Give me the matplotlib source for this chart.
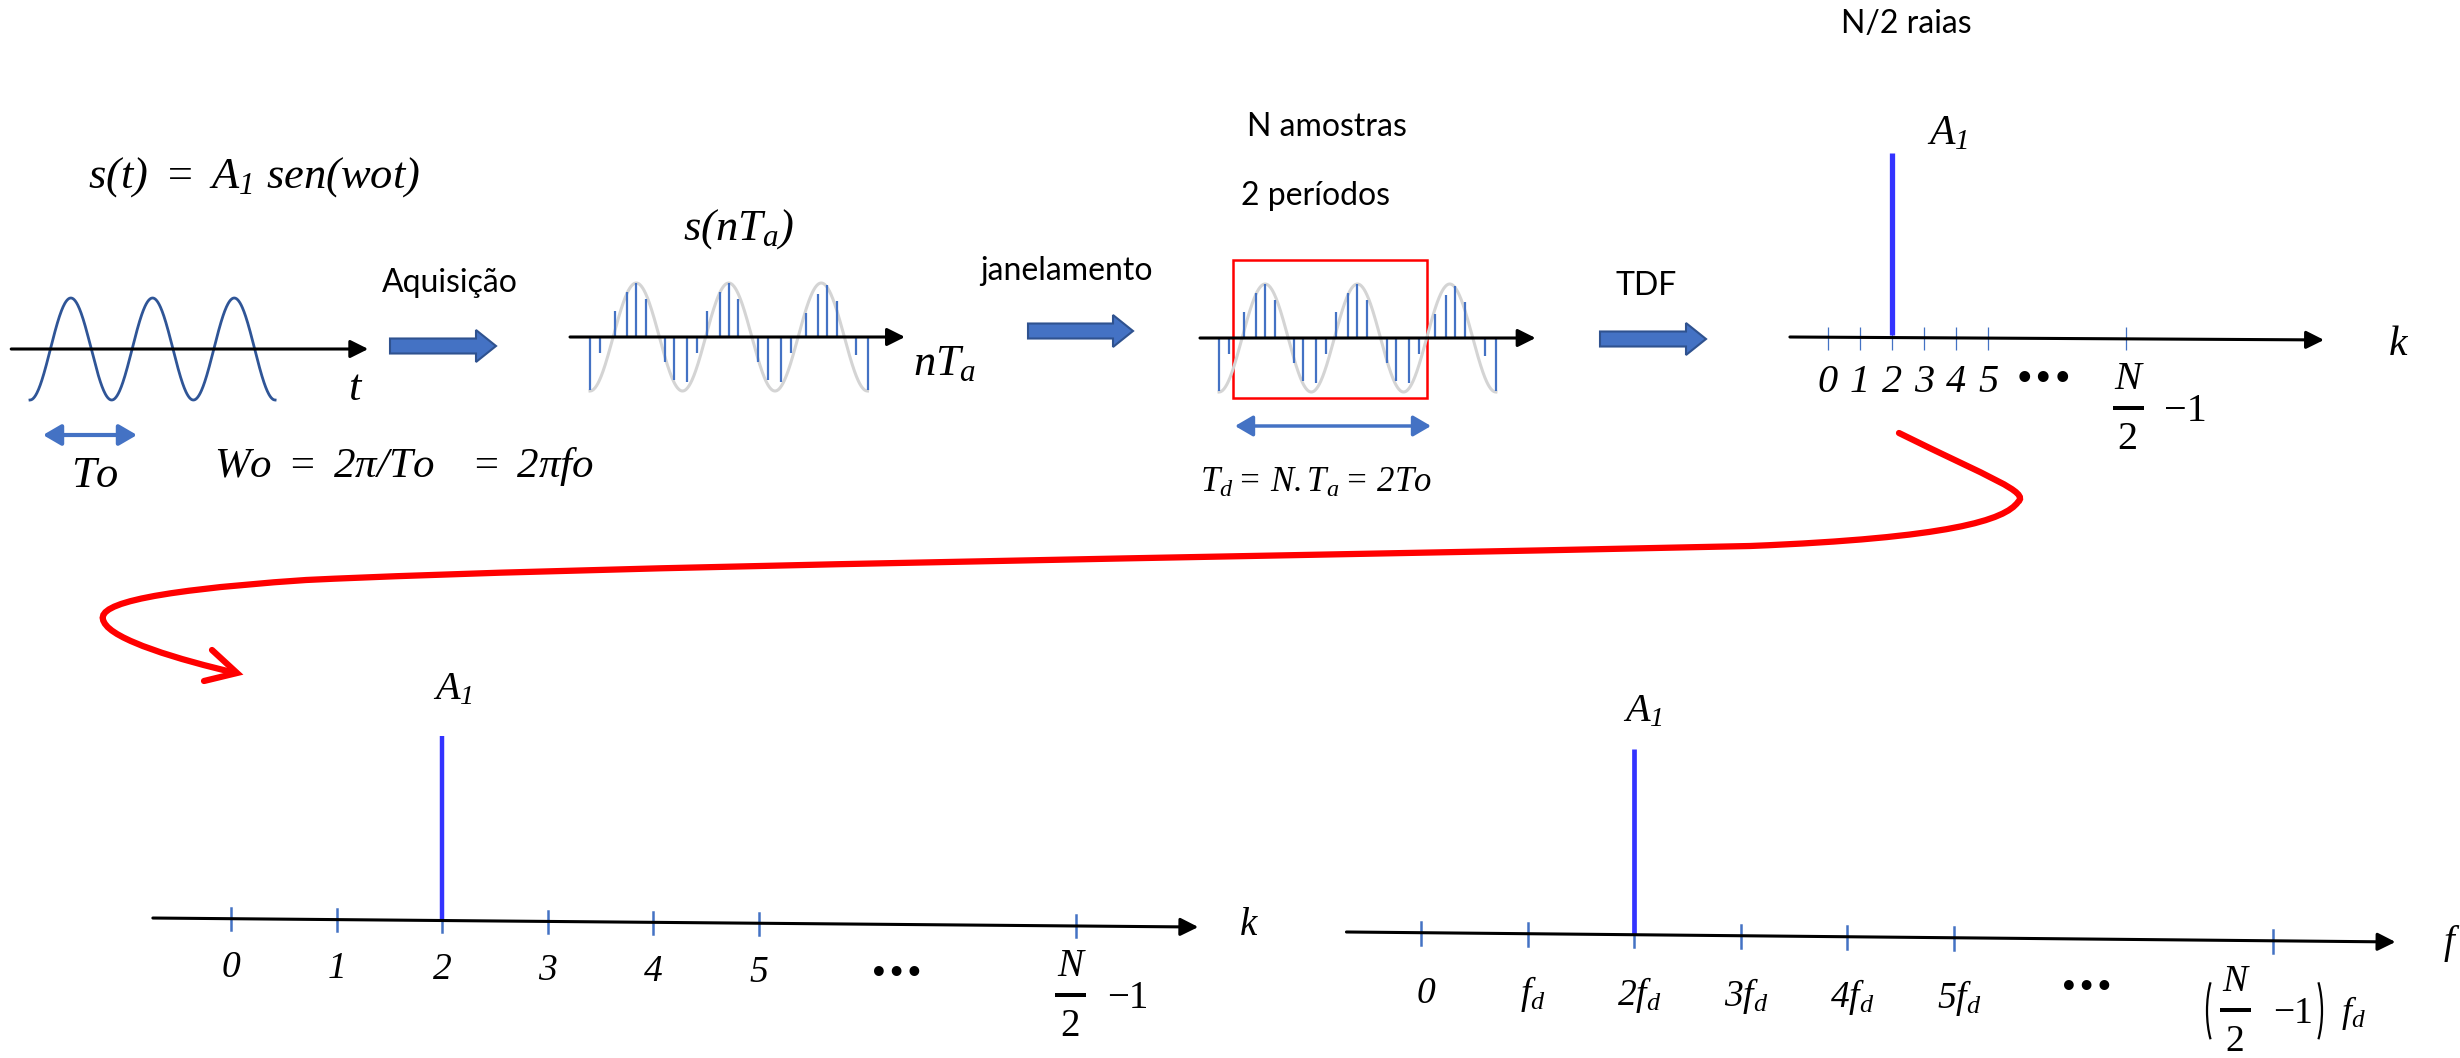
import numpy as np
import matplotlib
matplotlib.use('Agg')
import matplotlib.pyplot as plt
from matplotlib.patches import FancyArrow, Rectangle, PathPatch, Arc
from matplotlib.path import Path

# formulas in Times italic (as in the slide)
plt.rcParams['mathtext.fontset'] = 'custom'
plt.rcParams['mathtext.rm'] = 'Liberation Serif:italic'
plt.rcParams['mathtext.it'] = 'Liberation Serif:italic'
plt.rcParams['mathtext.bf'] = 'Liberation Serif:bold'
plt.rcParams['mathtext.sf'] = 'Liberation Serif'

# amostras de s(nTa): tempo em periodos To, amplitude em unidades de A1
sample_t = [0.0, 0.11, 0.27, 0.40, 0.50, 0.61, 0.81, 0.91, 1.05, 1.16, 1.27, 1.40,
            1.50, 1.60, 1.82, 1.92, 2.06, 2.17, 2.34, 2.46, 2.56, 2.67, 2.88, 3.0]
sample_a = [-0.99, -0.30, 0.48, 0.83, 1.0, 0.70, -0.47, -0.80, -0.84, -0.30, 0.48, 0.83,
            1.0, 0.70, -0.47, -0.80, -0.84, -0.30, 0.45, 0.80, 0.97, 0.67, -0.33, -0.99]
n_periods = 3
window = (0.15, 2.25)  # janela de 2 periodos

# espectro: posicao das raias no eixo k
k_top = [0, 1, 2, 3, 4, 5, 9.3]
k_bottom = [0, 1, 2, 3, 4, 5, 8]
k_labels = ['0', '1', '2', '3', '4', '5']
f_labels = [r'$0$', r'$f_d$', r'$2f_d$', r'$3f_d$', r'$4f_d$', r'$5f_d$']
line_k = 2
line_amp = 1.0

BLUE = '#4472C4'
DARK = '#2F5597'
LINE = '#3333FF'
GREY = '#D4D4D4'

W, H = 2460, 1058
fig = plt.figure(figsize=(W / 100, H / 100), dpi=100)
fig.patch.set_facecolor('white')
over = fig.add_axes([0, 0, 1, 1])
over.set_xlim(0, W)
over.set_ylim(H, 0)
over.axis('off')


def panel(x0, y0, sx, sy, box):
    # x0,y0 = pixel da origem dos dados, sx,sy = pixels por unidade
    l, t, r, b = box
    ax = fig.add_axes([l / W, 1 - b / H, (r - l) / W, (b - t) / H])
    ax.set_xlim((l - x0) / sx, (r - x0) / sx)
    ax.set_ylim((y0 - b) / sy, (y0 - t) / sy)
    ax.axis('off')
    ax.patch.set_alpha(0)
    return ax


def to_px(ax, x, y):
    dx, dy = ax.transData.transform((x, y))
    return float(dx), float(H - dy)


def axis_arrow(ax, xa, xb, ya=0, yb=0, lw=2.2):
    ax.annotate('', xy=(xb, yb), xytext=(xa, ya), annotation_clip=False,
                arrowprops=dict(arrowstyle='-|>,head_length=0.6,head_width=0.3',
                                mutation_scale=18, lw=lw, color='k',
                                shrinkA=0, shrinkB=0))


def dbl_arrow(xa, xb, y, lw=3):
    over.annotate('', xy=(xb, y), xytext=(xa, y),
                  arrowprops=dict(arrowstyle='<|-|>,head_length=0.6,head_width=0.35',
                                  mutation_scale=18, lw=lw, color=BLUE,
                                  shrinkA=0, shrinkB=0))


def block_arrow(xa, xb, y):
    over.add_patch(FancyArrow(xa, y, xb - xa, 0, width=15, head_width=32, head_length=20,
                              length_includes_head=True, fc=BLUE, ec='#2F528F', lw=1.5))


def frac_label(ax, k, y, dx, dy, fs=29, parens=False):
    # N/2 - 1 escrito como fracao, ancorado no ultimo tick
    x0, y0 = to_px(ax, k, y)
    xc, yb = x0 + dx, y0 + dy
    ser = dict(family='Liberation Serif', fontsize=fs, ha='center', va='baseline')
    over.text(xc, yb - 19, 'N', style='italic', **ser)
    over.text(xc, yb + 41, '2', **ser)
    over.add_patch(Rectangle((xc - 15, yb - 2), 31, 4, facecolor='k', edgecolor='none',
                             zorder=6))
    over.text(xc + 58, yb + 13, '\u22121', **ser)
    if parens:
        over.add_patch(Arc((xc - 8, yb + 1), 40, 100, theta1=120, theta2=240,
                           color='k', lw=1.6))
        over.add_patch(Arc((xc + 67, yb + 1), 40, 100, theta1=-60, theta2=60,
                           color='k', lw=1.6))
        over.text(xc + 106, yb + 3, r'$f_d$', ha='left', va='center', fontsize=fs - 1)


serif = dict(fontsize=32, color='k')
sans = dict(family='Lato', fontsize=23, color='k')

# ---- sinal continuo
axA = panel(30, 349, 81.7, 51, (0, 270, 420, 420))
tt = np.linspace(0, n_periods, 600)
axA.plot(tt, -np.cos(2 * np.pi * tt), color=DARK, lw=2, clip_on=False)
axis_arrow(axA, -0.23, 4.14)
dbl_arrow(43, 137, 435)
over.text(88, 188, r'$s(t)\ =\ A_1\ sen(wot)$', va='baseline', **serif)
over.text(348, 400, r'$t$', va='baseline', **serif)
over.text(71, 487, r'$To$', va='baseline', **serif)
over.text(214, 477, r'$Wo\ =\ 2\pi/To\ \ \ =\ 2\pi fo$', va='baseline', fontsize=31)
over.text(382, 292, 'Aquisição', va='baseline', **sans)
block_arrow(390, 496, 346)

# ---- sinal amostrado
axB = panel(590, 337, 92.5, 54, (550, 250, 930, 420))
axB.plot(tt, -np.cos(2 * np.pi * tt), color=GREY, lw=2.2, clip_on=False)
axB.vlines(sample_t, 0, sample_a, color=BLUE, lw=1.6)
axis_arrow(axB, -0.216, 3.405)
over.text(683, 240, r'$s(nT_a)$', va='baseline', **serif)
over.text(913, 375, r'$nT_a$', va='baseline', **serif)
over.text(980, 280, 'janelamento', va='baseline', **sans)
block_arrow(1028, 1133, 331)

# ---- janelamento
axC = panel(1219, 338, 92.3, 54, (1180, 240, 1560, 420))
axC.plot(tt, -np.cos(2 * np.pi * tt), color=GREY, lw=2.2, clip_on=False)
axC.vlines(sample_t, 0, sample_a, color=BLUE, lw=1.6)
axis_arrow(axC, -0.206, 3.43)
axC.add_patch(Rectangle((window[0], -1.11), window[1] - window[0], 2.55,
                        fill=False, ec='#FF0000', lw=1.8, clip_on=False))
dbl_arrow(1235, 1431, 426, lw=2.5)
over.text(1247, 136, 'N amostras', va='baseline', **sans)
over.text(1241, 205, '2 períodos', va='baseline', **sans)
over.text(1200, 492, r'$T_d{=}\,N{.}T_a{=}\,2To$', va='baseline', fontsize=25)
over.text(1616, 295, 'TDF', va='baseline', **sans)
block_arrow(1600, 1706, 339)

# ---- espectro (k)
axD = panel(1828, 337, 32, 184, (1760, 120, 2440, 460))
axis_arrow(axD, -1.19, 15.5, 0, -0.016)
axD.vlines(k_top, -0.07, 0.054, color=BLUE, lw=0.9)
axD.vlines([line_k], 0.01, line_amp, color=LINE, lw=3.8)
for k, lab in zip(k_top, k_labels):
    axD.text(k, -0.30, lab, ha='center', va='baseline', family='Liberation Serif',
             style='italic', fontsize=29)
axD.text(6.75, -0.23, '•••', ha='center', va='center', family='DejaVu Sans',
         fontsize=22, fontweight='bold')
frac_label(axD, k_top[-1], -0.016, 2, 68)
axD.text(line_k + 1.1, 1.05, r'$A_1$', ha='left', va='baseline', fontsize=30)
axD.text(17.5, -0.1, r'$k$', ha='left', va='baseline', fontsize=30)
over.text(1841, 33, 'N/2 raias', va='baseline', **sans)

# ---- seta vermelha
verts = [(1899, 433), (1990, 478), (2030, 492), (2018, 502),
         (2005, 520), (1950, 538), (1750, 546),
         (1200, 558), (600, 566), (306, 580),
         (130, 592), (95, 607), (104, 622),
         (112, 640), (180, 660), (236, 673)]
codes = [Path.MOVETO] + [Path.CURVE4] * 15
over.add_patch(PathPatch(Path(verts, codes), fill=False, ec='#FF0000', lw=4.5,
                         capstyle='round'))
over.plot([212, 237, 204], [650, 673, 681], color='#FF0000', lw=4.5,
          solid_capstyle='round', solid_joinstyle='miter')

# ---- espectro inferior (k)
tiltE = -0.00497
axE = panel(231, 918.7, 105.6, 183, (140, 640, 1280, 1058))
axis_arrow(axE, -0.74, 9.16, tiltE * -0.74, tiltE * 9.16)
for k in k_bottom:
    axE.plot([k, k], [tiltE * k - 0.062, tiltE * k + 0.058], color=BLUE, lw=1.8)
axE.plot([line_k, line_k], [tiltE * line_k, line_amp], color=LINE, lw=3.2,
         solid_capstyle='butt')
for k, lab in zip(k_bottom, k_labels):
    axE.text(k, tiltE * k - 0.27, lab, ha='center', va='center',
             family='Liberation Serif', style='italic', fontsize=27)
axE.text(6.3, -0.30, '•••', ha='center', va='center', family='DejaVu Sans',
         fontsize=20, fontweight='bold')
frac_label(axE, k_bottom[-1], tiltE * k_bottom[-1], -6, 69, fs=28)
axE.text(line_k - 0.09, 1.2, r'$A_1$', ha='left', va='baseline', fontsize=29)
axE.text(9.55, -0.09, r'$k$', ha='left', va='baseline', fontsize=28)

# ---- espectro inferior (f)
tiltF = -0.0055
axF = panel(1421, 932.7, 106.5, 184, (1330, 650, 2460, 1058))
axis_arrow(axF, -0.70, 9.15, tiltF * -0.70, tiltF * 9.15)
for k in k_bottom:
    axF.plot([k, k], [tiltF * k - 0.066, tiltF * k + 0.056], color=BLUE, lw=1.8)
axF.plot([line_k, line_k], [tiltF * line_k, line_amp], color=LINE, lw=3.4,
         solid_capstyle='butt')
for k, lab in zip(k_bottom, f_labels):
    axF.text(k + 0.05, tiltF * k - 0.33, lab, ha='center', va='center', fontsize=27)
axF.text(6.25, -0.30, '•••', ha='center', va='center', family='DejaVu Sans',
         fontsize=20, fontweight='bold')
frac_label(axF, k_bottom[-1], tiltF * k_bottom[-1], -38, 69, fs=27, parens=True)
axF.text(line_k - 0.1, 1.15, r'$A_1$', ha='left', va='baseline', fontsize=29)
axF.text(9.6, -0.11, r'$f$', ha='left', va='baseline', fontsize=28)

fig.savefig('out.png', dpi=100, facecolor='white')
